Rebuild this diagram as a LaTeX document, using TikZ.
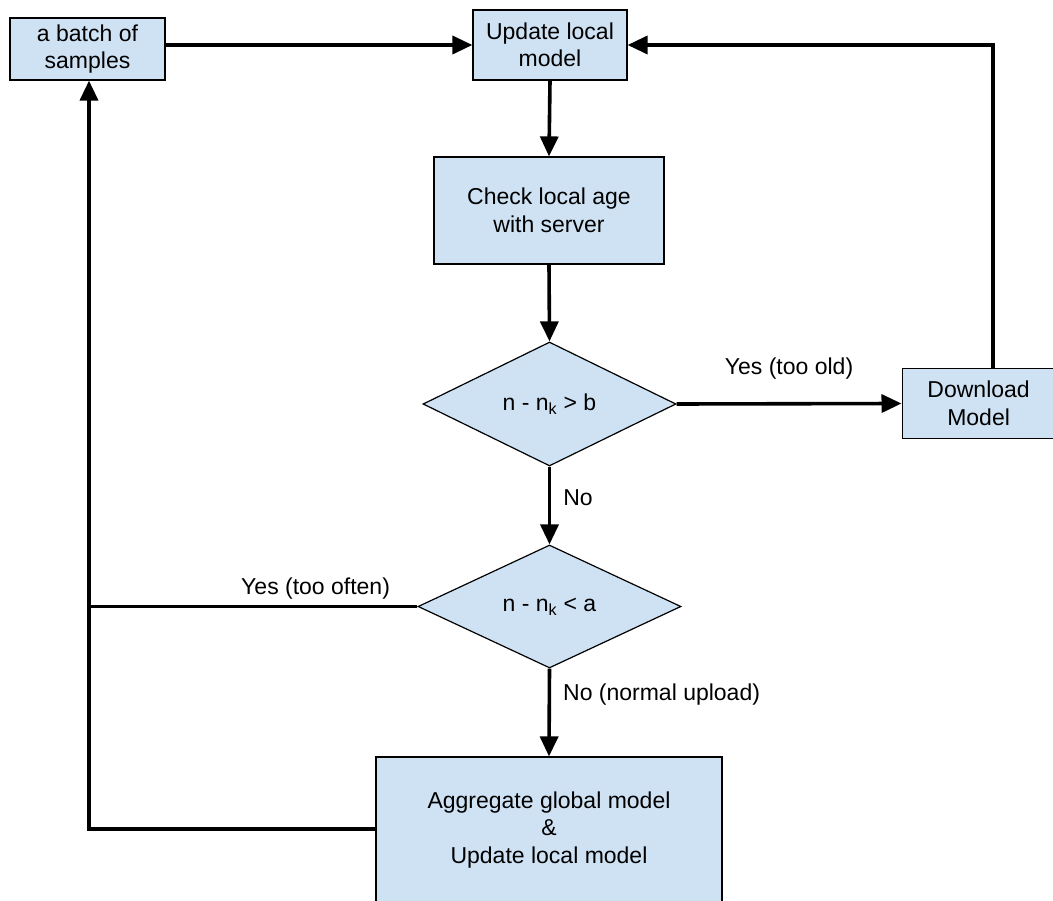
\documentclass[tikz,border=0pt]{standalone}
\usepackage{fontspec}
\setmainfont{Liberation Sans}
\usetikzlibrary{arrows.meta,shapes.geometric}
\definecolor{boxfill}{HTML}{CFE2F3}
\tikzset{
  box/.style={draw=black,line width=1.2pt,fill=boxfill,rectangle,inner sep=0pt,align=center,font=\fontsize{23}{27.5}\selectfont},
  dec/.style={draw=black,line width=1.2pt,fill=boxfill,diamond,inner sep=0pt,font=\fontsize{23}{27.5}\selectfont},
  conn/.style={line width=3.6pt,-{Triangle[length=20pt,width=18pt]}},
  plain/.style={line width=3.6pt},
  lbl/.style={font=\fontsize{23}{27}\selectfont,inner sep=0pt}
}
\begin{document}
\begin{tikzpicture}[x=1pt,y=-1pt]
\useasboundingbox (0,0) rectangle (1053,901);
\clip (0,0) rectangle (1053,901);
\node[box,minimum width=155pt,minimum height=62pt] (batch) at (87.5,49) {a batch of\\samples};
\node[box,minimum width=154pt,minimum height=70pt] (upd) at (550,45) {Update local\\model};
\node[box,minimum width=230pt,minimum height=107pt] (chk) at (549,210.5) {Check local age\\with server};
\node[dec,minimum width=253pt,minimum height=124pt] (d1) at (549.5,404) {n - n\textsubscript{k} > b};
\node[box,minimum width=153pt,minimum height=70pt,anchor=west] (dl) at (901.5,403.5) {Download\\Model};
\node[dec,minimum width=263pt,minimum height=123pt] (d2) at (549.5,606.5) {n - n\textsubscript{k} < a};
\node[box,minimum width=346pt,minimum height=146pt] (agg) at (549,830) {Aggregate global model\\\&\\Update local model};
\coordinate (dlTop) at (993,369);
\coordinate (corner) at (993,45);
\coordinate (leftJoin) at (89,606.5);
\coordinate (leftBot) at (89,829);
\draw[conn] (batch.east |- upd.west) -- (upd.west);
\draw[conn] (dl.north -| dlTop) -- (corner) -- (upd.east);
\draw[conn] (upd.south) -- (chk.north);
\draw[conn] (chk.south) -- (d1.north);
\draw[conn] (d1.east) -- node[lbl,pos=0.5,yshift=35pt] {Yes (too old)} (dl.west);
\draw[conn] (d1.south) -- node[lbl,pos=0.4,anchor=west,xshift=12pt] {No} (d2.north);
\draw[plain] (d2.west) -- node[lbl,pos=0.31,yshift=18pt] {Yes (too often)} (leftJoin);
\draw[conn] (d2.south) -- node[lbl,pos=0.3,anchor=west,xshift=12pt] {No (normal upload)} (agg.north);
\draw[conn,line cap=rect] (agg.west |- leftBot) -- (leftBot) -- (batch.south -| leftBot);
\end{tikzpicture}
\end{document}
